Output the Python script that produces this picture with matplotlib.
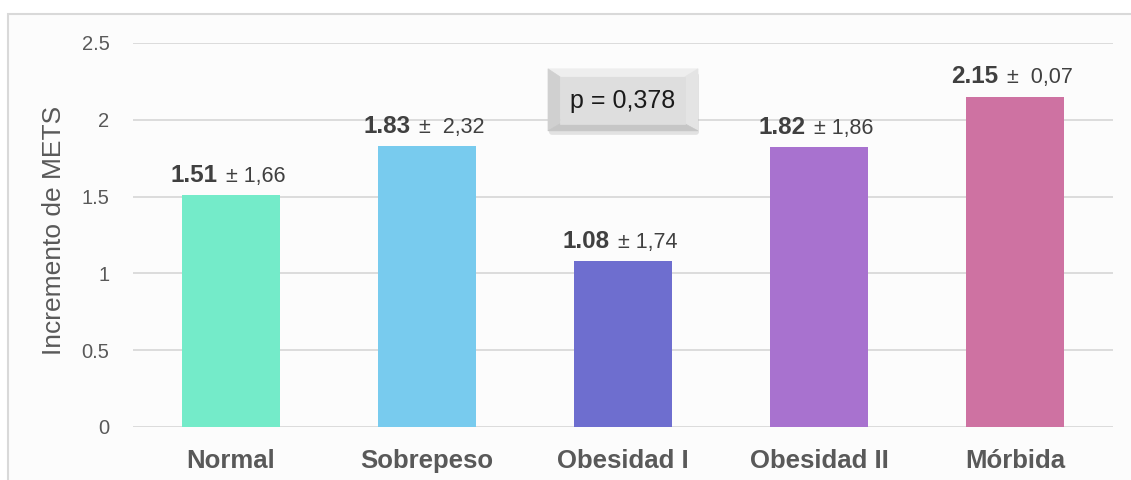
import matplotlib
matplotlib.use("Agg")
import matplotlib.pyplot as plt
import matplotlib.patches as mpatches
import matplotlib.transforms as mtransforms
from matplotlib.offsetbox import TextArea, HPacker, AnnotationBbox

plt.rcParams['font.family'] = ['Liberation Sans', 'DejaVu Sans']

categories = ["Normal", "Sobrepeso", "Obesidad I", "Obesidad II", "Mórbida"]
means = [1.51, 1.83, 1.08, 1.82, 2.15]
sd_labels = ["± 1,66", "±  2,32", "± 1,74", "± 1,86", "±  0,07"]
bar_colors = ["#74EBC9", "#78CBEE", "#6E6ECF", "#A872CF", "#CE72A2"]
y_ticks = [0, 0.5, 1, 1.5, 2, 2.5]
y_tick_labels = ["0", "0.5", "1", "1.5", "2", "2.5"]
p_text = "p = 0,378"

W, H = 1131, 480
fig = plt.figure(figsize=(W / 100, H / 100), dpi=100)
fig.patch.set_facecolor("white")

# chart area frame, drawn beneath the axes
frame = mpatches.Rectangle((8 / W, -0.05), 1.2, (480 - 14) / H + 0.05,
                           transform=fig.transFigure, facecolor="#fcfcfc",
                           edgecolor="#d9d9d9", linewidth=1.5, zorder=-1)
fig.patches.append(frame)

ax = fig.add_axes([133 / W, (480 - 427) / H, (1113 - 133) / W, (427 - 43) / H])
ax.set_facecolor("none")
x = list(range(len(categories)))
ax.bar(x, means, width=0.505, color=bar_colors, zorder=3)
ax.set_xlim(-0.5, len(categories) - 0.5)
ax.set_ylim(0, 2.5)
ax.set_yticks(y_ticks)
ax.set_yticklabels(y_tick_labels, fontsize=14.5, color="#595959")
ax.set_xticks(x)
ax.set_xticklabels(categories, fontsize=18.5, fontweight="bold", color="#595959")
ax.tick_params(axis="both", length=0)
ax.tick_params(axis="y", pad=17)
ax.tick_params(axis="x", pad=16)
ax.yaxis.grid(True, color="#d9d9d9", linewidth=1.3, zorder=0)
ax.set_axisbelow(True)
for s in ax.spines.values():
    s.set_visible(False)
ax.set_ylabel("Incremento de METS", fontsize=19, color="#595959")
ax.yaxis.set_label_coords(-(133 - 66) / (1113 - 133), 0.5 + 5 / 384)

# value labels: bold mean plus regular spread
for xi, m, sd in zip(x, means, sd_labels):
    t_bold = TextArea(f"{m:.2f}", textprops=dict(fontsize=17.5, fontweight="bold", color="#404040"))
    t_reg = TextArea(" " + sd, textprops=dict(fontsize=15.5, color="#404040"))
    pack = HPacker(children=[t_bold, t_reg], align="baseline", pad=0, sep=2)
    ab = AnnotationBbox(pack, (xi, m), xybox=(-2, 6), xycoords="data",
                        boxcoords="offset points", box_alignment=(0.5, 0),
                        frameon=False, zorder=5)
    ax.add_artist(ab)

# bevelled p-value box, centred over the third category
cx, cy = 2, 2.13
tr = fig.dpi_scale_trans + mtransforms.ScaledTranslation(cx, cy, ax.transData)
bw, bh = 0.75, 0.31       # half sizes in inches
il, ir, it, ib = 0.12, 0.13, 0.08, 0.07
shadow = mpatches.FancyBboxPatch((-bw + 0.01, -bh - 0.04), 2 * bw, 2 * bh,
                                 boxstyle="round,pad=0,rounding_size=0.03",
                                 transform=tr, facecolor="#000000", alpha=0.10,
                                 edgecolor="none", zorder=6, clip_on=False)
ax.add_artist(shadow)
face_parts = [
    ([(-bw, bh), (bw, bh), (bw - ir, bh - it), (-bw + il, bh - it)], "#eeeeee"),      # top
    ([(-bw, bh), (-bw + il, bh - it), (-bw + il, -bh + ib), (-bw, -bh)], "#d0d0d0"),  # left
    ([(bw, bh), (bw, -bh), (bw - ir, -bh + ib), (bw - ir, bh - it)], "#e4e4e4"),      # right
    ([(-bw, -bh), (-bw + il, -bh + ib), (bw - ir, -bh + ib), (bw, -bh)], "#c6c6c6"),  # bottom
    ([(-bw + il, bh - it), (bw - ir, bh - it), (bw - ir, -bh + ib),
      (-bw + il, -bh + ib)], "#dedede"),                                              # face
]
for verts, col in face_parts:
    poly = mpatches.Polygon(verts, closed=True, transform=tr, facecolor=col,
                            edgecolor=col, linewidth=0.5, zorder=7, clip_on=False)
    ax.add_artist(poly)
ax.text(0, -0.01, p_text, transform=tr, ha="center", va="center", fontsize=18,
        color="#1a1a1a", zorder=8, clip_on=False)

fig.savefig("out.png", dpi=100)
